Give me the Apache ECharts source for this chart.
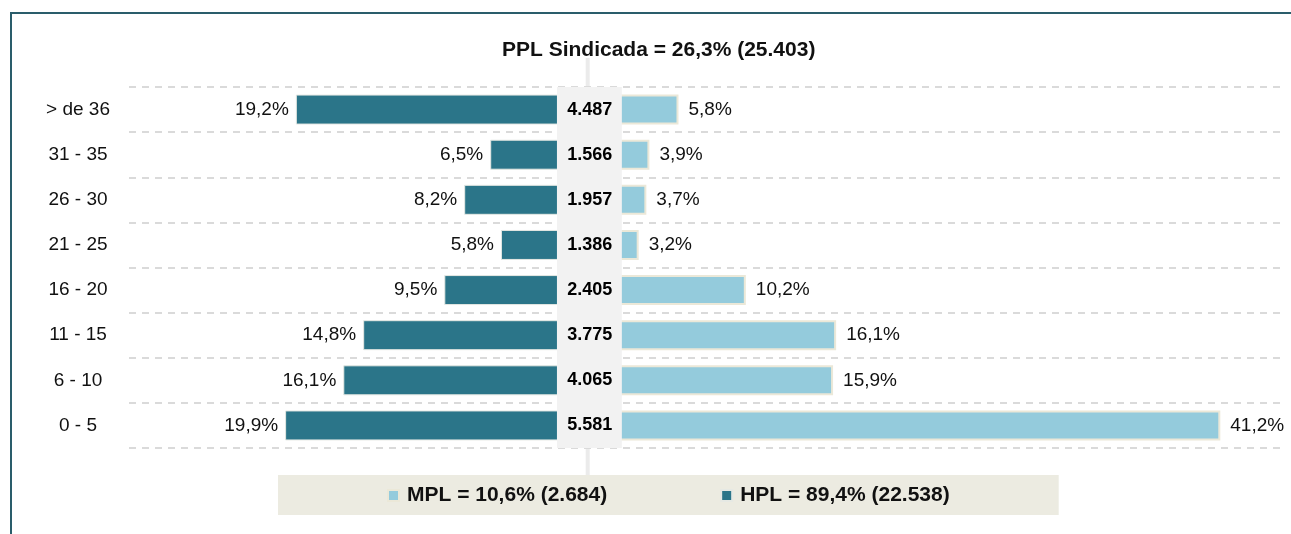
<!DOCTYPE html>
<html>
<head>
<meta charset="utf-8">
<script src="https://cdn.jsdelivr.net/npm/echarts@6/dist/echarts.min.js"></script>
<style>
  html, body { margin: 0; padding: 0; background: #fff; }
  #chart { width: 1291px; height: 534px; }
</style>
</head>
<body>
<div id="chart"></div>
<script>
// categorias de antigüedad (de abajo hacia arriba)
const categories = ['0 - 5', '6 - 10', '11 - 15', '16 - 20', '21 - 25', '26 - 30', '31 - 35', '> de 36'];
// HPL (izquierda) y MPL (derecha), en %
const hplPct = [19.9, 16.1, 14.8, 9.5, 5.8, 8.2, 6.5, 19.2];
const mplPct = [41.2, 15.9, 16.1, 10.2, 3.2, 3.7, 3.9, 5.8];
// totales por fila (columna central)
const totals = ['5.581', '4.065', '3.775', '2.405', '1.386', '1.957', '1.566', '4.487'];

const titleText = 'PPL Sindicada = 26,3% (25.403)';
const mplName = 'MPL = 10,6% (2.684)';
const hplName = 'HPL = 89,4% (22.538)';

const fontFamily = '"Liberation Sans", Arial, sans-serif';
const fmtPct = v => Math.abs(v).toFixed(1).replace('.', ',') + '%';

const chart = echarts.init(document.getElementById('chart'));

const option = {
    animation: false,
    textStyle: { fontFamily: fontFamily },
    title: {
        text: titleText,
        left: 497,
        top: 35,
        textStyle: { fontSize: 21, fontWeight: 'bold', color: '#111', fontFamily: fontFamily }
    },
    legend: {
        data: [mplName, hplName],
        left: 278,
        top: 475,
        padding: [10, 109, 9, 109],
        itemGap: 113,
        itemWidth: 11,
        itemHeight: 11,
        icon: 'rect',
        backgroundColor: '#ecebe1',
        textStyle: { fontSize: 21, fontWeight: 'bold', color: '#111', padding: [0, 0, 0, 3], fontFamily: fontFamily }
    },
    grid: { left: 129, right: 11, top: 87, bottom: 86 },
    xAxis: {
        type: 'value',
        min: -30.1,
        max: 45.1,
        show: false,
        splitLine: { show: false }
    },
    yAxis: {
        type: 'category',
        data: categories,
        axisLine: { show: false },
        axisTick: { show: false },
        axisLabel: {
            align: 'center',
            margin: 51,
            fontSize: 19,
            color: '#111'
        },
        splitLine: {
            show: true,
            lineStyle: { color: '#dadada', width: 2, type: [7, 6] }
        }
    },
    series: [
        {
            name: hplName,
            type: 'bar',
            stack: 'total',
            barWidth: 30,
            data: hplPct.map(v => -v),
            itemStyle: { color: '#2b7589', borderColor: '#e6e9e4', borderWidth: 1 },
            label: {
                show: true,
                position: 'left',
                distance: 7,
                fontSize: 19,
                color: '#111',
                formatter: p => fmtPct(p.value)
            }
        },
        {
            name: mplName,
            type: 'bar',
            stack: 'total',
            barWidth: 30,
            data: mplPct,
            itemStyle: { color: '#94cbdc', borderColor: '#ebe8d8', borderWidth: 2 },
            label: {
                show: true,
                position: 'right',
                distance: 10,
                fontSize: 19,
                color: '#111',
                formatter: p => fmtPct(p.value)
            },
            // banda gris central
            markArea: {
                silent: true,
                z: 4,
                itemStyle: { color: '#f2f2f2', opacity: 1 },
                data: [[{ xAxis: -2.14 }, { xAxis: 2.1 }]]
            }
        },
        {
            // totales de la columna central
            type: 'scatter',
            z: 10,
            symbolSize: 1,
            silent: true,
            itemStyle: { color: '#f2f2f2', opacity: 1 },
            data: categories.map((c, i) => [0, c, totals[i]]),
            label: {
                show: true,
                position: 'inside',
                fontSize: 18,
                fontWeight: 'bold',
                color: '#000',
                opacity: 1,
                textBorderWidth: 0,
                textBorderColor: 'transparent',
                formatter: p => p.value[2]
            },
            labelLayout: { hideOverlap: false }
        }
    ]
};

chart.setOption(option);

// marco y eje central decorativos
const zeroX = chart.convertToPixel({ xAxisIndex: 0 }, 0) - 2;
chart.setOption({
    graphic: [
        {
            type: 'polyline',
            z: -1,
            silent: true,
            shape: { points: [[11, 534], [11, 13], [1291, 13]] },
            style: { stroke: '#2a5d6b', lineWidth: 2, fill: null }
        },
        {
            type: 'line',
            z: -1,
            silent: true,
            shape: { x1: zeroX, y1: 58, x2: zeroX, y2: 475 },
            style: { stroke: '#ebebeb', lineWidth: 4 }
        }
    ]
});

window.addEventListener('resize', () => chart.resize());
</script>
</body>
</html>
